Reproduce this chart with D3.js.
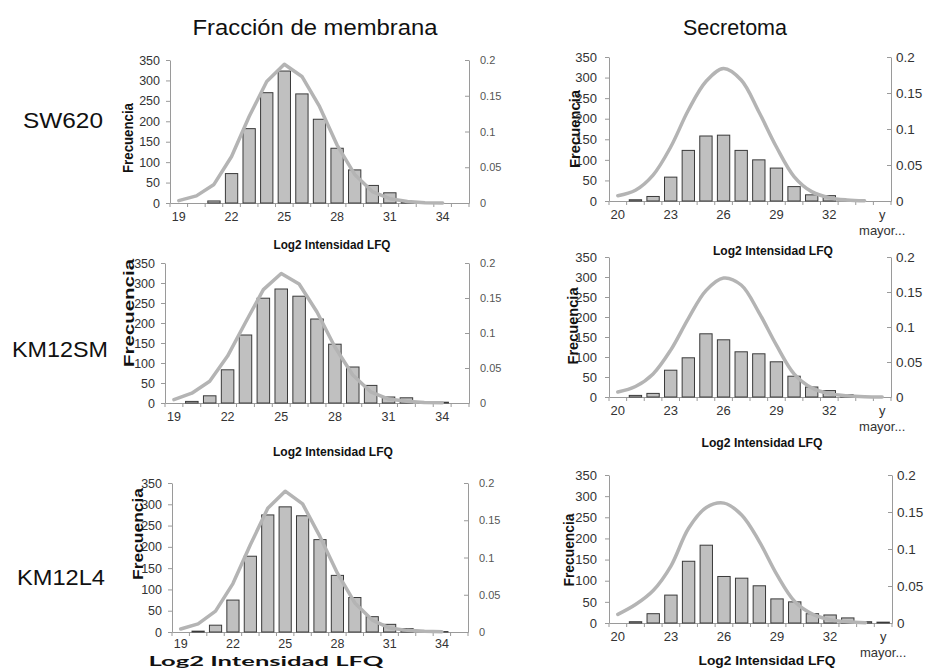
<!DOCTYPE html>
<html>
<head>
<meta charset="utf-8">
<script src="https://cdn.jsdelivr.net/npm/d3@7"></script>
<style>
  html, body { margin: 0; padding: 0; background: #fff; }
  svg { display: block; font-family: "Liberation Sans", Arial, sans-serif; }
</style>
</head>
<body>
<svg id="chart" width="926" height="668"></svg>
<script>
// Histogram bins (Excel-style, last bin is the overflow "y mayor...")
const membraneBins = ["19","20","21","22","23","24","25","26","27","28","29","30","31","32","33","34","y mayor..."];
const secretomeBins = ["20","21","22","23","24","25","26","27","28","29","30","31","32","33","34","y mayor..."];

// Frequencies (left axis) and fitted normal density (right axis)
const sw620MembraneFreq   = [0, 0, 5, 72, 182, 270, 323, 267, 205, 134, 81, 43, 25, 2, 0, 0, 0];
const sw620MembraneNormal = [0.0033, 0.010, 0.026, 0.065, 0.121, 0.170, 0.194, 0.177, 0.135, 0.081, 0.040, 0.016, 0.006, 0.002, 0.0005, 0.0001, null];

const km12smMembraneFreq   = [0, 4, 18, 83, 170, 262, 285, 267, 210, 147, 90, 44, 15, 13, 2, 2, 0];
const km12smMembraneNormal = [0.0048, 0.014, 0.031, 0.067, 0.115, 0.162, 0.185, 0.170, 0.130, 0.080, 0.040, 0.016, 0.0057, 0.0024, 0.0007, 0.0002, null];

const km12l4MembraneFreq   = [0, 2, 16, 75, 178, 275, 294, 273, 217, 133, 81, 36, 18, 8, 0, 1, 0];
const km12l4MembraneNormal = [0.004, 0.011, 0.028, 0.065, 0.117, 0.166, 0.189, 0.172, 0.128, 0.079, 0.039, 0.016, 0.0053, 0.0022, 0.0009, 0.0003, null];

const sw620SecretomeFreq   = [0, 3, 11, 58, 123, 158, 160, 123, 100, 80, 35, 15, 13, 0, 0, 0];
const sw620SecretomeNormal = [0.0074, 0.015, 0.036, 0.075, 0.126, 0.166, 0.184, 0.168, 0.124, 0.075, 0.034, 0.013, 0.0046, 0.0014, 0.0003, null];

const km12smSecretomeFreq   = [0, 4, 9, 67, 98, 158, 143, 113, 108, 88, 52, 25, 16, 6, 0, 0];
const km12smSecretomeNormal = [0.0071, 0.015, 0.033, 0.067, 0.112, 0.152, 0.170, 0.160, 0.121, 0.074, 0.033, 0.013, 0.0048, 0.0019, 0.0005, 0.0001];

const km12l4SecretomeFreq   = [0, 3, 22, 66, 146, 184, 110, 106, 88, 57, 50, 22, 19, 12, 3, 2];
const km12l4SecretomeNormal = [0.0117, 0.025, 0.044, 0.077, 0.128, 0.156, 0.162, 0.146, 0.110, 0.065, 0.029, 0.012, 0.0045, 0.0017, 0.0005, null];

const freqTicks = [0, 50, 100, 150, 200, 250, 300, 350];
const densityTicks = [0, 0.05, 0.1, 0.15, 0.2];
const columnTitles = ["Fracción de membrana", "Secretoma"];
const rowTitles = ["SW620", "KM12SM", "KM12L4"];
const yTitle = "Frecuencia";
const xTitle = "Log2 Intensidad LFQ";

// Panel layout
const panels = [
  { bins: membraneBins, freq: sw620MembraneFreq, dens: sw620MembraneNormal, smooth: false,
    x0: 170, x1: 469, yTop: 60, yBot: 203, tickFont: 12.5, tickPad: 9, rightFont: 11, yLab: { x: 128, y: 138, size: 14, len: 70 },
    xLab: { x: 332, y: 249, size: 12, len: 117, font: null } },
  { bins: secretomeBins, freq: sw620SecretomeFreq, dens: sw620SecretomeNormal, smooth: true,
    x0: 609, x1: 891, yTop: 57, yBot: 201, tickFont: 13, tickPad: 9, rightFont: 13.5, yLab: { x: 575, y: 129, size: 14.5, len: 78 },
    xLab: { x: 773, y: 255, size: 12, len: 120, font: null } },
  { bins: membraneBins, freq: km12smMembraneFreq, dens: km12smMembraneNormal, smooth: false,
    x0: 165, x1: 469, yTop: 263, yBot: 403, tickFont: 12.5, tickPad: 9, rightFont: 11, yLab: { x: 129, y: 313, size: 15, len: 108 },
    xLab: { x: 333, y: 456, size: 12, len: 120, font: null } },
  { bins: secretomeBins, freq: km12smSecretomeFreq, dens: km12smSecretomeNormal, smooth: true,
    x0: 609, x1: 891, yTop: 257, yBot: 397, tickFont: 13, tickPad: 9, rightFont: 13.5, yLab: { x: 573, y: 326, size: 14.5, len: 77 },
    xLab: { x: 762, y: 447, size: 12, len: 121, font: null } },
  { bins: membraneBins, freq: km12l4MembraneFreq, dens: km12l4MembraneNormal, smooth: false,
    x0: 172, x1: 468, yTop: 483, yBot: 632, tickFont: 12.5, tickPad: 7, rightFont: 11, yLab: { x: 138, y: 534, size: 15, len: 92 },
    xLab: { x: 266, y: 666, size: 13.5, len: 235, font: "Lato, 'Open Sans', sans-serif" } },
  { bins: secretomeBins, freq: km12l4SecretomeFreq, dens: km12l4SecretomeNormal, smooth: true,
    x0: 609, x1: 892, yTop: 475, yBot: 623, tickFont: 13, tickPad: 9, rightFont: 13.5, yLab: { x: 569, y: 550, size: 15, len: 73 },
    xLab: { x: 767, y: 665, size: 13, len: 137, font: null } }
];

const svg = d3.select("#chart");
const AXIS = "#9a9a9a";
const TEXT = "#333";

// Column and row headings
const colX = [315, 735];
svg.selectAll("text.col-title").data(columnTitles).join("text")
  .attr("class", "col-title")
  .attr("x", (d, i) => colX[i]).attr("y", 35)
  .attr("text-anchor", "middle")
  .attr("font-size", 21.5).attr("fill", "#111")
  .attr("textLength", (d, i) => i === 0 ? 245 : null)
  .attr("lengthAdjust", "spacingAndGlyphs")
  .text(d => d);

const rowPos = [{ x: 23, y: 128, len: 80 }, { x: 12, y: 357, len: 96 }, { x: 17, y: 585, len: 88 }];
svg.selectAll("text.row-title").data(rowTitles).join("text")
  .attr("class", "row-title")
  .attr("x", (d, i) => rowPos[i].x).attr("y", (d, i) => rowPos[i].y)
  .attr("font-size", 22).attr("fill", "#111")
  .attr("textLength", (d, i) => rowPos[i].len)
  .attr("lengthAdjust", "spacingAndGlyphs")
  .text(d => d);

panels.forEach(p => {
  const g = svg.append("g");
  const x = d3.scaleBand().domain(p.bins).range([p.x0, p.x1]).paddingInner(0.3).paddingOuter(0.15);
  const y = d3.scaleLinear().domain([0, 350]).range([p.yBot, p.yTop]);
  const y2 = d3.scaleLinear().domain([0, 0.2]).range([p.yBot, p.yTop]);
  const step = x.step();
  const shown = (d, i) => i % 3 === 0;

  // Left axis
  const left = g.append("g").attr("transform", `translate(${p.x0},0)`)
    .call(d3.axisLeft(y).tickValues(freqTicks).tickSizeOuter(0).tickSizeInner(4).tickPadding(p.smooth ? 8 : 6));
  left.select(".domain").attr("stroke", AXIS);
  left.selectAll(".tick line").attr("stroke", AXIS);
  left.selectAll(".tick text").attr("fill", TEXT).attr("font-size", p.tickFont)
    .attr("font-family", "'Liberation Sans', Arial, sans-serif");

  // Right axis (density)
  const right = g.append("g").attr("transform", `translate(${p.x1},0)`)
    .call(d3.axisRight(y2).tickValues(densityTicks).tickFormat(d3.format("~g"))
      .tickSizeOuter(0).tickSizeInner(-4).tickPadding(p.smooth ? 5 : 11));
  right.select(".domain").attr("stroke", AXIS);
  right.selectAll(".tick line").attr("stroke", AXIS);
  right.selectAll(".tick text").attr("fill", p.smooth ? TEXT : "#555").attr("font-size", p.rightFont)
    .attr("font-family", "'Liberation Sans', Arial, sans-serif");

  // Bottom axis: labels every third bin, tick marks on every bin boundary
  const bottom = g.append("g").attr("transform", `translate(0,${p.yBot})`)
    .call(d3.axisBottom(x).tickSize(0).tickPadding(p.tickPad)
      .tickFormat((d, i) => shown(d, i) ? d : ""));
  bottom.select(".domain").attr("stroke", AXIS);
  bottom.selectAll(".tick text").attr("fill", TEXT).attr("font-size", p.tickFont)
    .attr("font-family", "'Liberation Sans', Arial, sans-serif")
    .each(function (d, i) {
      if (d === "y mayor..." && shown(d, i)) {
        const t = d3.select(this).text(null);
        t.append("tspan").attr("x", 0).attr("dy", "0.71em").text("y");
        t.append("tspan").attr("x", 0).attr("dy", "1.2em").text("mayor...");
        t.attr("dy", null);
      }
    });
  g.append("g").selectAll("line").data(d3.range(p.bins.length + 1)).join("line")
    .attr("x1", i => p.x0 + i * step).attr("x2", i => p.x0 + i * step)
    .attr("y1", p.yBot).attr("y2", p.yBot + 4)
    .attr("stroke", AXIS);

  // Frequency bars
  g.append("g").selectAll("rect").data(p.bins.map((b, i) => ({ b, v: p.freq[i] })).filter(d => d.v > 0))
    .join("rect")
    .attr("x", d => x(d.b)).attr("width", x.bandwidth())
    .attr("y", d => y(d.v)).attr("height", d => y(0) - y(d.v))
    .attr("fill", "#c0c0c0").attr("stroke", "#3a3a3a").attr("stroke-width", 1);

  // Normal curve
  const pts = p.bins.map((b, i) => ({ b, v: p.dens[i] })).filter(d => d.v !== null);
  const line = d3.line()
    .x(d => x(d.b) + x.bandwidth() / 2).y(d => y2(d.v))
    .curve(p.smooth ? d3.curveCatmullRom.alpha(0.5) : d3.curveLinear);
  g.append("path").datum(pts).attr("d", line)
    .attr("fill", "none").attr("stroke", "#b4b4b4").attr("stroke-width", 3.5)
    .attr("stroke-linejoin", "round").attr("stroke-linecap", "round");

  // Axis titles
  g.append("text")
    .attr("transform", `translate(${p.yLab.x + p.yLab.size * 0.36},${p.yLab.y}) rotate(-90)`)
    .attr("text-anchor", "middle").attr("font-weight", "bold").attr("fill", "#111")
    .attr("font-size", p.yLab.size)
    .attr("textLength", p.yLab.len).attr("lengthAdjust", "spacingAndGlyphs")
    .text(yTitle);
  g.append("text")
    .attr("x", p.xLab.x).attr("y", p.xLab.y)
    .attr("text-anchor", "middle").attr("font-weight", "bold").attr("fill", "#111")
    .attr("font-size", p.xLab.size)
    .attr("font-family", p.xLab.font)
    .attr("textLength", p.xLab.len).attr("lengthAdjust", "spacingAndGlyphs")
    .text(xTitle);
});
</script>
</body>
</html>
